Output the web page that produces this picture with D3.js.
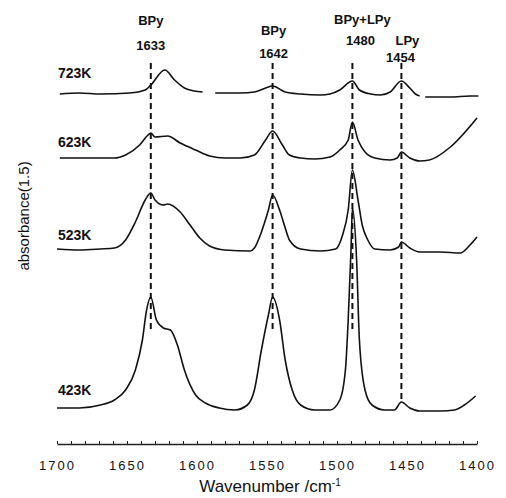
<!DOCTYPE html>
<html>
<head>
<meta charset="utf-8">
<script src="https://cdn.jsdelivr.net/npm/d3@7"></script>
<style>
body { margin: 0; background: #fff; }
svg { display: block; }
text { font-family: Arial, "Liberation Sans", sans-serif; fill: #111; }
</style>
</head>
<body>
<script>
const w = 506
const h = 498

// spectra: [wavenumber, absorbance], null marks a break in the trace
const s723 = [
	[1698,3.26],[1684,3.27],[1669,3.26],[1648,3.27],[1637,3.30],[1633,3.35],[1623,3.50],[1616,3.40],
	[1609,3.32],[1602,3.29],[1596,3.28],null,[1587,3.27],[1569,3.27],[1559,3.28],[1551,3.32],[1546,3.34],
	[1537,3.28],[1526,3.26],[1512,3.25],[1505,3.26],[1498,3.30],[1489,3.39],[1484,3.30],[1476,3.26],
	[1469,3.25],[1462,3.28],[1454,3.39],[1448,3.32],[1444,3.26],[1441,3.24],null,[1437,3.23],[1419,3.23],
	[1405,3.24],[1399,3.24]
]
const s623 = [
	[1698,2.62],[1684,2.62],[1669,2.62],[1659,2.62],[1651,2.65],[1641,2.75],[1635,2.85],[1633,2.87],
	[1630,2.83],[1621,2.84],[1612,2.77],[1601,2.70],[1591,2.64],[1580,2.62],[1569,2.62],[1559,2.65],
	[1551,2.80],[1546,2.89],[1539,2.75],[1534,2.65],[1526,2.62],[1516,2.61],[1505,2.63],[1498,2.70],
	[1492,2.80],[1489,2.98],[1485,2.80],[1480,2.68],[1473,2.62],[1462,2.60],[1457,2.62],[1454,2.68],
	[1448,2.62],[1441,2.59],[1434,2.60],[1419,2.73],[1400,3.02]
]
const s523 = [
	[1700,1.71],[1684,1.70],[1669,1.71],[1659,1.72],[1651,1.80],[1644,1.98],[1637,2.20],[1633,2.27],
	[1630,2.20],[1624,2.15],[1621,2.16],[1612,2.08],[1605,1.95],[1598,1.82],[1591,1.74],[1580,1.70],
	[1562,1.69],[1559,1.72],[1554,1.88],[1549,2.10],[1546,2.25],[1541,2.10],[1537,1.92],[1534,1.80],
	[1526,1.71],[1512,1.69],[1501,1.71],[1496,1.85],[1492,2.10],[1489,2.50],[1485,2.20],[1482,1.95],
	[1478,1.80],[1473,1.71],[1462,1.70],[1456,1.73],[1454,1.78],[1448,1.72],[1441,1.68],[1426,1.68],
	[1412,1.67],[1405,1.75],[1400,1.83]
]
const s423 = [
	[1700,0.12],[1684,0.12],[1669,0.15],[1659,0.20],[1651,0.30],[1644,0.50],[1639,0.80],[1636,1.10],
	[1633,1.23],[1629,1.00],[1624,0.92],[1619,0.90],[1614,0.75],[1609,0.50],[1601,0.25],[1594,0.17],
	[1584,0.12],[1573,0.10],[1564,0.15],[1559,0.30],[1554,0.70],[1549,1.05],[1546,1.23],[1541,1.00],
	[1537,0.60],[1532,0.30],[1526,0.15],[1516,0.10],[1505,0.10],[1498,0.20],[1494,0.50],[1492,1.00],
	[1490,1.70],[1489,2.12],[1486,1.60],[1484,0.80],[1480,0.30],[1475,0.15],[1466,0.10],[1459,0.10],
	[1454,0.18],[1448,0.12],[1441,0.09],[1426,0.09],[1416,0.10],[1409,0.15],[1401,0.24]
]

const spectra = [s723, s623, s523, s423]
const tempLabels = ['723K', '623K', '523K', '423K']
const tempLabelAbs = [3.42, 2.73, 1.80, 0.25]

// marked bands and the dashed guide lines
const peaks = [1633, 1546, 1489, 1454]
const peakNames = ['BPy', 'BPy', 'BPy+LPy', 'LPy']
const peakNumbers = ['1633', '1642', '1480', '1454']
const guideTop = 3.57
const guideBottom = [0.87, 0.87, 0.87, 0.20]

const xTicks = [1700, 1650, 1600, 1550, 1500, 1450, 1400]

const svg = d3.select('body')
	.append('svg')
	.attr('width', w)
	.attr('height', h)

const xScale = d3.scaleLinear()
	.domain([1700, 1400])
	.range([57, 477])

const yScale = d3.scaleLinear()
	.domain([0, 4])
	.range([420, 20])

const line = d3.line()
	.defined(d => d != null)
	.x(d => xScale(d[0]))
	.y(d => yScale(d[1]))
	.curve(d3.curveMonotoneX)

// dashed guides
svg.selectAll('.guide')
	.data(peaks)
	.enter()
	.append('line')
	.attr('class', 'guide')
	.attr('x1', d => xScale(d))
	.attr('x2', d => xScale(d))
	.attr('y1', yScale(guideTop))
	.attr('y2', (d, i) => yScale(guideBottom[i]))
	.attr('stroke', '#111')
	.attr('stroke-width', 2)
	.attr('stroke-dasharray', '6,4')

svg.selectAll('.spec')
	.data(spectra)
	.enter()
	.append('path')
	.attr('class', 'spec')
	.attr('d', line)
	.attr('fill', 'none')
	.attr('stroke', '#111')
	.attr('stroke-width', 1.6)

// temperature labels
svg.selectAll('.temp')
	.data(tempLabels)
	.enter()
	.append('text')
	.attr('class', 'temp')
	.attr('x', 58)
	.attr('y', (d, i) => yScale(tempLabelAbs[i]))
	.attr('font-size', '14px')
	.attr('font-weight', 'bold')
	.text(d => d)

// band labels
const nameDx = [0, 1, 10, 6]
const nameY = [25, 35, 24, 45]
const numDx = [0, 1, 8, -1]
const numY = [50, 58, 45, 62]

svg.selectAll('.pname')
	.data(peakNames)
	.enter()
	.append('text')
	.attr('class', 'pname')
	.attr('x', (d, i) => xScale(peaks[i]) + nameDx[i])
	.attr('y', (d, i) => nameY[i])
	.attr('text-anchor', 'middle')
	.attr('font-size', '13px')
	.attr('font-weight', 'bold')
	.text(d => d)

svg.selectAll('.pnum')
	.data(peakNumbers)
	.enter()
	.append('text')
	.attr('class', 'pnum')
	.attr('x', (d, i) => xScale(peaks[i]) + numDx[i])
	.attr('y', (d, i) => numY[i])
	.attr('text-anchor', 'middle')
	.attr('font-size', '13px')
	.attr('font-weight', 'bold')
	.text(d => d)

// x axis: small upward ticks every 10, labels every 50
const xAxis = d3.axisBottom(xScale)
	.tickValues(d3.range(1700, 1399, -10))
	.tickSizeInner(-3)
	.tickSizeOuter(0)
	.tickPadding(17)
	.tickFormat(d => xTicks.includes(d) ? d : '')

const gx = svg.append('g')
	.attr('class', 'axis')
	.attr('transform', 'translate(0,444)')
	.call(xAxis)

gx.select('.domain').attr('stroke', '#222').attr('stroke-width', 1.3)
gx.selectAll('.tick line').attr('stroke', '#222')
gx.selectAll('.tick text')
	.attr('font-size', '13px')
	.attr('fill', '#333')
	.attr('font-family', 'Arial, sans-serif')
	.style('letter-spacing', '2px')

svg.append('text')
	.attr('x', 270)
	.attr('y', 492)
	.attr('text-anchor', 'middle')
	.attr('font-size', '17px')
	.text('Wavenumber /cm')
	.append('tspan')
	.attr('dy', -6)
	.attr('font-size', '10px')
	.text('-1')

svg.append('text')
	.attr('transform', 'translate(29,216) rotate(-90)')
	.attr('text-anchor', 'middle')
	.attr('font-size', '15px')
	.text('absorbance(1.5)')
</script>
</body>
</html>
